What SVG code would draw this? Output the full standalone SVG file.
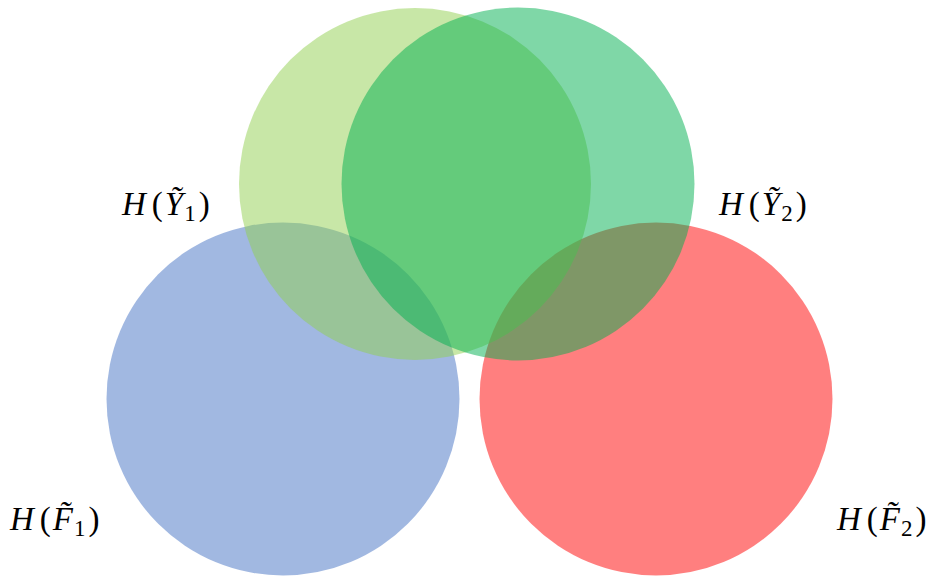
<svg xmlns="http://www.w3.org/2000/svg" width="930" height="578" viewBox="0 0 930 578">
<style>
.c{fill-opacity:0.5;stroke:none}
.lbl{font-family:"Liberation Serif","DejaVu Serif",serif;font-size:33px;fill:#000}
.it{font-style:italic}
.sub{font-size:23px}
</style>
<rect width="930" height="578" fill="#fff"/>
<g id="F1"><circle class="c" cx="283" cy="399" r="176.5" fill="#4472C4"/></g>
<g id="F2"><circle class="c" cx="656" cy="399" r="176.5" fill="#FF0000"/></g>
<g id="Y1"><circle class="c" cx="415" cy="184" r="176" fill="#92D050"/></g>
<g id="Y2"><circle class="c" cx="518" cy="184" r="176.5" fill="#00B050"/></g>
<g id="labels">
<text class="lbl" x="122" y="215"><tspan class="it">H</tspan><tspan dx="6">(</tspan><tspan class="it" dx="2">Ỹ</tspan><tspan class="sub" dx="1" dy="6">1</tspan><tspan dx="3" dy="-6">)</tspan></text>
<text class="lbl" x="719" y="215"><tspan class="it">H</tspan><tspan dx="6">(</tspan><tspan class="it" dx="2">Ỹ</tspan><tspan class="sub" dx="1" dy="6">2</tspan><tspan dx="3" dy="-6">)</tspan></text>
<text class="lbl" x="10" y="530"><tspan class="it">H</tspan><tspan dx="6">(</tspan><tspan class="it" dx="2">F̃</tspan><tspan class="sub" dx="1" dy="6">1</tspan><tspan dx="3" dy="-6">)</tspan></text>
<text class="lbl" x="837" y="530"><tspan class="it">H</tspan><tspan dx="6">(</tspan><tspan class="it" dx="2">F̃</tspan><tspan class="sub" dx="1" dy="6">2</tspan><tspan dx="3" dy="-6">)</tspan></text>
</g>
</svg>
